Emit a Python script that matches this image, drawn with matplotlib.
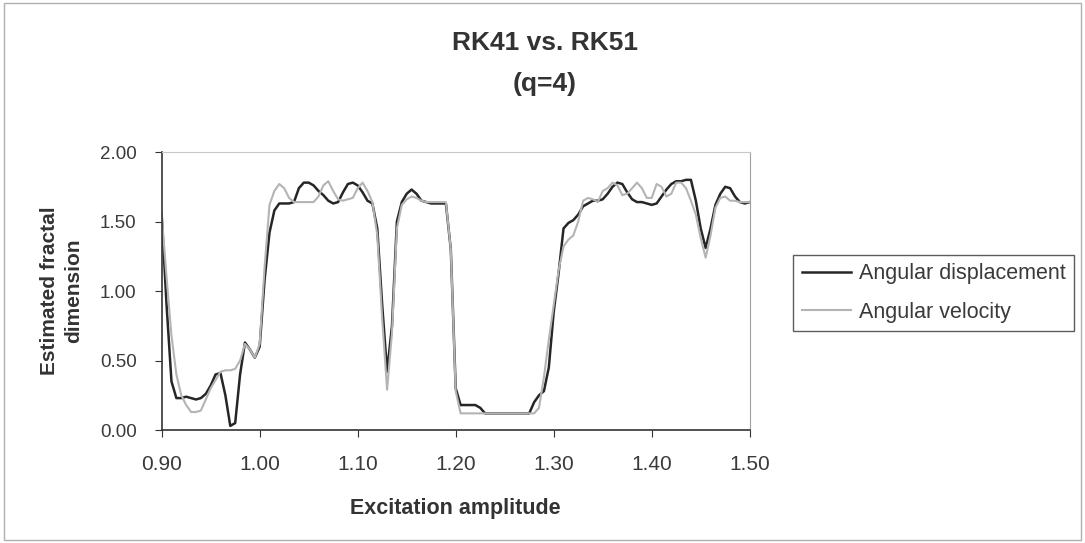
import numpy as np
import matplotlib.pyplot as plt
from matplotlib.patches import Rectangle

plt.rcParams['font.family'] = ['Liberation Sans', 'DejaVu Sans']

# excitation amplitude grid (0.90 .. 1.50, step 0.005)
amplitude = np.round(np.arange(0.900, 1.5001, 0.005), 3)

# estimated fractal dimension, angular displacement
displacement = [
    1.55, 0.90, 0.35, 0.23, 0.23, 0.24, 0.23, 0.22, 0.23, 0.26,   # 0.900-0.945
    0.32, 0.40, 0.41, 0.25, 0.03, 0.05, 0.40, 0.63, 0.58, 0.52,   # 0.950-0.995
    0.60, 1.08, 1.42, 1.58, 1.63, 1.63, 1.63, 1.64, 1.74, 1.78,   # 1.000-1.045
    1.78, 1.76, 1.72, 1.69, 1.65, 1.63, 1.64, 1.71, 1.77, 1.78,   # 1.050-1.095
    1.76, 1.71, 1.65, 1.63, 1.45, 0.90, 0.42, 0.75, 1.50, 1.64,   # 1.100-1.145
    1.70, 1.73, 1.70, 1.65, 1.64, 1.63, 1.63, 1.63, 1.63, 1.30,   # 1.150-1.195
    0.30, 0.18, 0.18, 0.18, 0.18, 0.16, 0.12, 0.12, 0.12, 0.12,   # 1.200-1.245
    0.12, 0.12, 0.12, 0.12, 0.12, 0.12, 0.20, 0.25, 0.28, 0.45,   # 1.250-1.295
    0.85, 1.13, 1.45, 1.49, 1.51, 1.55, 1.61, 1.63, 1.65, 1.65,   # 1.300-1.345
    1.66, 1.70, 1.75, 1.78, 1.77, 1.71, 1.66, 1.64, 1.64, 1.63,   # 1.350-1.395
    1.62, 1.63, 1.68, 1.73, 1.77, 1.79, 1.79, 1.80, 1.80, 1.65,   # 1.400-1.445
    1.45, 1.31, 1.45, 1.62, 1.70, 1.75, 1.74, 1.68, 1.64, 1.63,   # 1.450-1.495
    1.64,                                                         # 1.500
]

# estimated fractal dimension, angular velocity
velocity = [
    1.55, 1.10, 0.68, 0.40, 0.25, 0.18, 0.13, 0.13, 0.14, 0.22,   # 0.900-0.945
    0.30, 0.36, 0.42, 0.43, 0.43, 0.44, 0.50, 0.62, 0.58, 0.52,   # 0.950-0.995
    0.62, 1.17, 1.62, 1.72, 1.77, 1.74, 1.67, 1.64, 1.64, 1.64,   # 1.000-1.045
    1.64, 1.64, 1.68, 1.76, 1.79, 1.72, 1.66, 1.65, 1.66, 1.67,   # 1.050-1.095
    1.74, 1.78, 1.72, 1.64, 1.40, 0.80, 0.29, 0.70, 1.45, 1.62,   # 1.100-1.145
    1.66, 1.68, 1.67, 1.65, 1.64, 1.64, 1.64, 1.64, 1.64, 1.30,   # 1.150-1.195
    0.28, 0.12, 0.12, 0.12, 0.12, 0.12, 0.12, 0.12, 0.12, 0.12,   # 1.200-1.245
    0.12, 0.12, 0.12, 0.12, 0.12, 0.12, 0.12, 0.16, 0.38, 0.65,   # 1.250-1.295
    0.90, 1.15, 1.32, 1.37, 1.40, 1.50, 1.65, 1.67, 1.66, 1.64,   # 1.300-1.345
    1.72, 1.74, 1.78, 1.76, 1.69, 1.70, 1.74, 1.78, 1.74, 1.67,   # 1.350-1.395
    1.67, 1.77, 1.75, 1.68, 1.70, 1.78, 1.78, 1.74, 1.65, 1.55,   # 1.400-1.445
    1.38, 1.24, 1.40, 1.60, 1.67, 1.68, 1.65, 1.65, 1.64, 1.64,   # 1.450-1.495
    1.64,                                                         # 1.500
]

fig = plt.figure(figsize=(10.85, 5.43), dpi=100)
ax = fig.add_axes([0.149, 0.208, 0.542, 0.512])

ax.plot(amplitude, displacement, color='#262626', linewidth=1.8, label='Angular displacement')
ax.plot(amplitude, velocity, color='#b4b4b4', linewidth=1.5, label='Angular velocity')

ax.set_xlim(0.90, 1.50)
ax.set_ylim(0.0, 2.0)
ax.set_xticks(np.arange(0.90, 1.501, 0.10))
ax.set_yticks(np.arange(0.0, 2.001, 0.5))
ax.xaxis.set_major_formatter(plt.FormatStrFormatter('%.2f'))
ax.yaxis.set_major_formatter(plt.FormatStrFormatter('%.2f'))
ax.tick_params(axis='both', direction='out', length=5, color='#333333', labelcolor='#3a3a3a', pad=13)
ax.tick_params(axis='x', labelsize=15)
ax.tick_params(axis='y', labelsize=13.5)

ax.spines['left'].set_color('#333333')
ax.spines['bottom'].set_color('#333333')
ax.spines['left'].set_linewidth(1.2)
ax.spines['bottom'].set_linewidth(1.2)
ax.spines['top'].set_color('#c8c8c8')
ax.spines['right'].set_color('#a0a0a0')

ax.set_xlabel('Excitation amplitude', fontsize=15.5, fontweight='bold', color='#333333', labelpad=17)
ax.set_ylabel('Estimated fractal\ndimension', fontsize=15, fontweight='bold', color='#333333', labelpad=12,
              linespacing=1.35)

fig.text(0.502, 0.921, 'RK41 vs. RK51', ha='center', va='center', fontsize=19, fontweight='bold', color='#333333')
fig.text(0.502, 0.845, '(q=4)', ha='center', va='center', fontsize=19, fontweight='bold', color='#333333')

leg = fig.legend(loc='upper left', bbox_to_anchor=(0.731, 0.531), fontsize=15.5, frameon=True,
                 fancybox=False, edgecolor='#333333', handlelength=2.3, handletextpad=0.35,
                 borderpad=0.4, labelspacing=0.8, borderaxespad=0)
leg.get_frame().set_linewidth(1.0)
for t in leg.get_texts():
    t.set_color('#3a3a3a')

# chart area border
fig.patches.append(Rectangle((0.004, 0.006), 0.992, 0.988, transform=fig.transFigure,
                             fill=False, edgecolor='#b0b0b0', linewidth=1.0))

fig.savefig('out.png', dpi=100)
